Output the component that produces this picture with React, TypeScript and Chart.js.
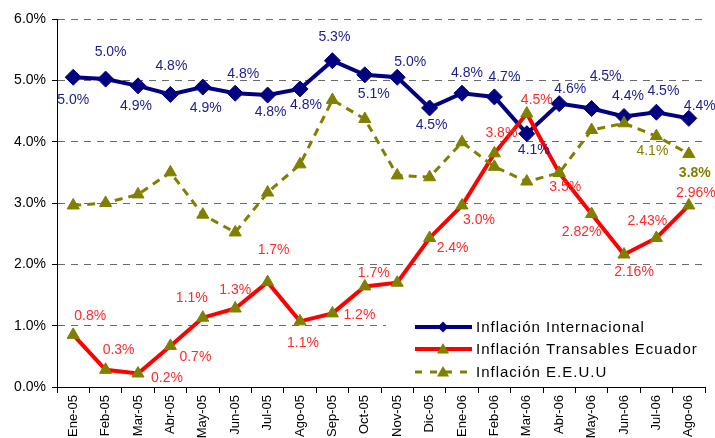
import React, { useEffect, useRef } from 'react';
import { Chart, registerables } from 'chart.js';

Chart.register(...registerables);

// ---------- DATA ----------
const months = ['Ene-05', 'Feb-05', 'Mar-05', 'Abr-05', 'May-05', 'Jun-05', 'Jul-05', 'Ago-05', 'Sep-05', 'Oct-05',
  'Nov-05', 'Dic-05', 'Ene-06', 'Feb-06', 'Mar-06', 'Abr-06', 'May-06', 'Jun-06', 'Jul-06', 'Ago-06'];

const internacional = [5.05, 5.02, 4.91, 4.77, 4.89, 4.79, 4.76, 4.86, 5.32, 5.09,
  5.05, 4.55, 4.79, 4.73, 4.13, 4.62, 4.54, 4.41, 4.48, 4.38];

const transables = [0.85, 0.28, 0.22, 0.67, 1.13, 1.28, 1.71, 1.07, 1.2, 1.64,
  1.7, 2.43, 2.96, 3.81, 4.46, 3.49, 2.82, 2.16, 2.43, 2.96];

const eeuu = [2.96, 3.0, 3.14, 3.5, 2.81, 2.52, 3.17, 3.63, 4.68, 4.37,
  3.45, 3.42, 3.99, 3.59, 3.35, 3.49, 4.19, 4.3, 4.09, 3.8];

const internacionalLabels = ['5.0%', '5.0%', '4.9%', '4.8%', '4.9%', '4.8%', '4.8%', '4.8%', '5.3%', '5.1%',
  '5.0%', '4.5%', '4.8%', '4.7%', '4.1%', '4.6%', '4.5%', '4.4%', '4.5%', '4.4%'];

const transablesLabels = ['0.8%', '0.3%', '0.2%', '0.7%', '1.1%', '1.3%', '1.7%', '1.1%', '1.2%', '1.7%',
  '', '2.4%', '3.0%', '3.8%', '4.5%', '3.5%', '2.82%', '2.16%', '2.43%', '2.96%'];

const eeuuLabels = ['', '', '', '', '', '', '', '', '', '',
  '', '', '', '', '', '', '', '', '4.1%', '3.8%'];

const yTickValues = [0, 1, 2, 3, 4, 5, 6];

const seriesNames = ['Inflación Internacional', 'Inflación Transables Ecuador', 'Inflación E.E.U.U'];

// ---------- LABEL PLACEMENT (style: offset of text from its point) ----------
const internacionalOffsets = [[0, 23], [5, -27], [-2, 20], [1, -28], [3, 21], [8, -19], [3, 17], [6, 16], [2, -24], [9, 19],
  [13, -15], [2, 17], [5, -20], [10, -20], [7, 16], [11, -14], [14, -32], [4, -20], [7, -21], [11, -12]];
const transablesOffsets = [[17, -19], [13, -20], [29, 5], [25, 11], [-11, -20], [0, -18], [6, -32], [3, 22], [27, 2], [9, -13],
  [0, 0], [23, 10], [17, 15], [7, -20], [10, -13], [6, 14], [-10, 18], [10, 18], [-9, -17], [7, -12]];
const eeuuOffsets = [[0, 0], [0, 0], [0, 0], [0, 0], [0, 0], [0, 0], [0, 0], [0, 0], [0, 0], [0, 0],
  [0, 0], [0, 0], [0, 0], [0, 0], [0, 0], [0, 0], [0, 0], [0, 0], [-4, 15], [6, 19]];

const NAVY = '#000080';
const RED = '#FF0000';
const OLIVE = '#808000';
const FONT = '"Liberation Sans", Arial, sans-serif';

const labelSets = [
  { texts: internacionalLabels, offsets: internacionalOffsets, color: '#1c1c8c' },
  { texts: transablesLabels, offsets: transablesOffsets, color: '#ff2a2a' },
  { texts: eeuuLabels, offsets: eeuuOffsets, color: OLIVE },
];

const pointLabelPlugin = {
  id: 'pointLabels',
  afterDatasetsDraw(chart: any) {
    const ctx = chart.ctx;
    ctx.save();
    ctx.textAlign = 'center';
    ctx.textBaseline = 'middle';
    labelSets.forEach((set, di) => {
      const meta = chart.getDatasetMeta(di);
      meta.data.forEach((pt: any, i: number) => {
        const t = set.texts[i];
        if (!t) return;
        const bold = di === 2 && i === set.texts.length - 1;
        ctx.font = `${bold ? 'bold ' : ''}14px ${FONT}`;
        ctx.fillStyle = set.color;
        ctx.fillText(t, pt.x + set.offsets[i][0], pt.y + set.offsets[i][1]);
      });
    });
    ctx.restore();
  },
};

function drawTriangle(ctx: CanvasRenderingContext2D, x: number, y: number, r: number, color: string) {
  ctx.beginPath();
  ctx.moveTo(x, y - r);
  ctx.lineTo(x + r * 0.866, y + r * 0.5);
  ctx.lineTo(x - r * 0.866, y + r * 0.5);
  ctx.closePath();
  ctx.fillStyle = color;
  ctx.fill();
}

function drawDiamond(ctx: CanvasRenderingContext2D, x: number, y: number, r: number, color: string) {
  ctx.beginPath();
  ctx.moveTo(x, y - r);
  ctx.lineTo(x + r, y);
  ctx.lineTo(x, y + r);
  ctx.lineTo(x - r, y);
  ctx.closePath();
  ctx.fillStyle = color;
  ctx.fill();
}

const legendPlugin = {
  id: 'insideLegend',
  afterDatasetsDraw(chart: any) {
    const { ctx, chartArea } = chart;
    const left = chartArea.left + 329;
    const right = chartArea.right - 1;
    const bottom = chartArea.bottom - 1;
    const top = chartArea.bottom - 76;
    ctx.save();
    ctx.fillStyle = '#ffffff';
    ctx.fillRect(left, top, right - left, bottom - top);
    const rows = [bottom - 59, bottom - 37, bottom - 14];
    const x1 = left + 29;
    const x2 = left + 86;
    const xm = left + 57;
    rows.forEach((y, i) => {
      ctx.beginPath();
      ctx.moveTo(x1, y);
      ctx.lineTo(x2, y);
      if (i === 0) { ctx.strokeStyle = NAVY; ctx.lineWidth = 4; ctx.setLineDash([]); }
      if (i === 1) { ctx.strokeStyle = RED; ctx.lineWidth = 4; ctx.setLineDash([]); }
      if (i === 2) { ctx.strokeStyle = OLIVE; ctx.lineWidth = 3; ctx.setLineDash([7, 8]); }
      ctx.stroke();
      ctx.setLineDash([]);
      if (i === 0) drawDiamond(ctx, xm, y, 5.5, NAVY);
      else drawTriangle(ctx, xm, y + 1, 7, OLIVE);
      ctx.fillStyle = '#000000';
      ctx.font = `15px ${FONT}`;
      (ctx as any).letterSpacing = '1px';
      ctx.textAlign = 'left';
      ctx.textBaseline = 'middle';
      ctx.fillText(seriesNames[i], left + 90, y + 1);
      (ctx as any).letterSpacing = '0px';
    });
    ctx.restore();
  },
};

export default function App() {
  const canvasRef = useRef<HTMLCanvasElement | null>(null);

  useEffect(() => {
    if (!canvasRef.current) return;
    const chart = new Chart(canvasRef.current, {
      type: 'line',
      data: {
        labels: months,
        datasets: [
          {
            label: seriesNames[0],
            data: internacional,
            borderColor: NAVY,
            backgroundColor: NAVY,
            borderWidth: 4,
            pointStyle: 'rectRot',
            pointRadius: 8,
            pointBackgroundColor: NAVY,
            pointBorderColor: NAVY,
            pointBorderWidth: 1,
            tension: 0,
            order: 2,
          },
          {
            label: seriesNames[1],
            data: transables,
            borderColor: RED,
            backgroundColor: RED,
            borderWidth: 4,
            pointStyle: 'triangle',
            pointRadius: 7,
            pointBackgroundColor: OLIVE,
            pointBorderColor: OLIVE,
            pointBorderWidth: 1,
            tension: 0,
            order: 1,
          },
          {
            label: seriesNames[2],
            data: eeuu,
            borderColor: OLIVE,
            backgroundColor: OLIVE,
            borderWidth: 3,
            borderDash: [8, 6],
            pointStyle: 'triangle',
            pointRadius: 7,
            pointBackgroundColor: OLIVE,
            pointBorderColor: OLIVE,
            pointBorderWidth: 1,
            tension: 0,
            order: 0,
          },
        ],
      },
      options: {
        responsive: false,
        animation: false,
        devicePixelRatio: 1,
        layout: { padding: { left: 0, top: 19, right: 10, bottom: 0 } },
        plugins: {
          legend: { display: false },
          tooltip: { enabled: false },
        },
        scales: {
          x: {
            type: 'category',
            offset: true,
            grid: {
              display: true,
              drawOnChartArea: false,
              drawTicks: true,
              tickLength: 6,
              color: '#000000',
              offset: true,
            },
            border: { display: true, color: '#000000', width: 1 },
            ticks: {
              autoSkip: false,
              minRotation: 90,
              maxRotation: 90,
              padding: 2,
              color: '#000000',
              font: { family: FONT, size: 13 },
            },
            afterFit: (scale: any) => { scale.height = 51; },
          },
          y: {
            min: 0,
            max: 6,
            afterBuildTicks: (scale: any) => {
              scale.ticks = yTickValues.map((v) => ({ value: v }));
            },
            grid: {
              color: '#6a6a6a',
              lineWidth: 1,
              drawTicks: true,
              tickLength: 5,
              tickColor: '#000000',
            },
            border: { display: true, color: '#000000', width: 1, dash: [7, 6] },
            ticks: {
              padding: 6,
              color: '#000000',
              font: { family: FONT, size: 14 },
              callback: (v: any) => Number(v).toFixed(1) + '%',
            },
            afterFit: (scale: any) => { scale.width = 57; },
          },
        },
      },
      plugins: [legendPlugin, pointLabelPlugin],
    });
    return () => chart.destroy();
  }, []);

  return (
    <div style={{ position: 'fixed', left: 0, top: 0, width: 715, height: 438, background: '#ffffff' }}>
      <canvas ref={canvasRef} width={715} height={438} />
    </div>
  );
}
